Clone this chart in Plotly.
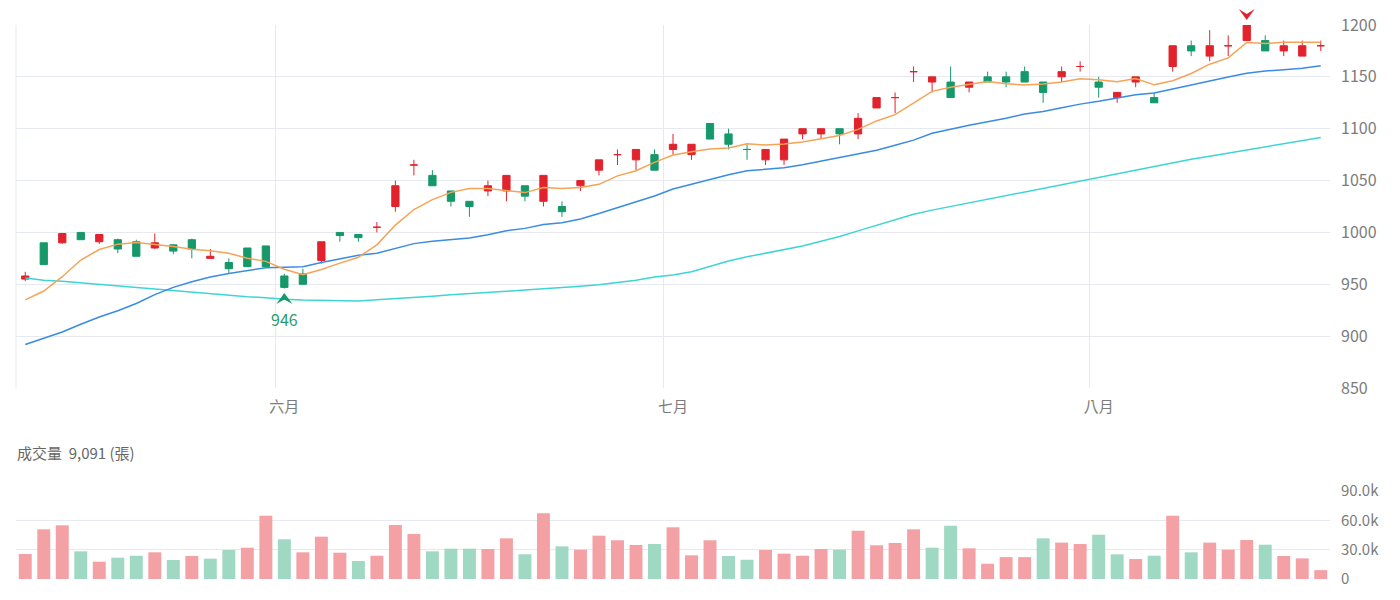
import plotly.graph_objects as go

# ---------------- data ----------------
open_ = [955, 990, 990, 1000, 991, 993, 991, 985, 988, 993,
         975, 971, 985, 987, 958, 960, 973, 1000, 998, 1005,
         1025, 1065, 1055, 1040, 1030, 1040, 1040, 1045, 1030, 1025,
         1045, 1060, 1075, 1070, 1075, 1080, 1075, 1105, 1095, 1080,
         1070, 1070, 1095, 1095, 1100, 1095, 1120, 1130, 1155, 1145,
         1145, 1140, 1150, 1150, 1155, 1145, 1150, 1160, 1145, 1130,
         1145, 1130, 1160, 1180, 1170, 1180, 1185, 1185, 1175, 1170, 1180]
high = [962, 990, 999, 1000, 998, 994, 993, 999, 989, 994,
        984, 975, 985, 987, 960, 965, 991, 1000, 998, 1010,
        1050, 1070, 1060, 1040, 1030, 1050, 1055, 1045, 1055, 1030,
        1050, 1070, 1080, 1080, 1080, 1095, 1085, 1105, 1100, 1085,
        1080, 1090, 1100, 1100, 1100, 1115, 1130, 1135, 1160, 1150,
        1160, 1145, 1155, 1155, 1160, 1145, 1160, 1165, 1150, 1135,
        1150, 1135, 1180, 1185, 1195, 1190, 1200, 1190, 1185, 1185, 1185]
low = [953, 969, 989, 993, 989, 980, 977, 984, 979, 975,
       975, 961, 967, 967, 946, 950, 970, 991, 991, 1000,
       1020, 1055, 1045, 1025, 1015, 1035, 1030, 1030, 1025, 1015,
       1040, 1055, 1065, 1060, 1060, 1075, 1070, 1090, 1080, 1070,
       1065, 1065, 1090, 1090, 1085, 1090, 1120, 1115, 1145, 1135,
       1130, 1135, 1145, 1140, 1145, 1125, 1145, 1155, 1130, 1125,
       1140, 1125, 1155, 1170, 1165, 1170, 1185, 1175, 1170, 1170, 1175]
close = [958, 969, 999, 993, 998, 984, 977, 990, 982, 984,
         977, 965, 967, 967, 947, 950, 991, 997, 995, 1005,
         1045, 1065, 1045, 1030, 1025, 1045, 1055, 1035, 1055, 1020,
         1050, 1070, 1075, 1080, 1060, 1085, 1085, 1090, 1085, 1080,
         1080, 1090, 1100, 1100, 1095, 1110, 1130, 1130, 1155, 1150,
         1130, 1145, 1145, 1145, 1145, 1135, 1155, 1160, 1140, 1135,
         1150, 1125, 1180, 1175, 1180, 1180, 1200, 1175, 1180, 1180, 1180]
volume = [25600, 50800, 54900, 28300, 17700, 21800, 23800, 27300, 19400, 23500,
          20800, 29700, 32000, 64700, 40600, 27300, 43300, 26900, 18400, 23800,
          55200, 46000, 28300, 31000, 31000, 30700, 41600, 25300, 67200, 33400,
          30000, 44300, 39600, 34800, 35800, 52900, 24200, 39600, 23500, 19700,
          29700, 25900, 23800, 30700, 30000, 49400, 34500, 36800, 50800, 32000,
          54500, 31400, 15600, 22400, 22400, 41600, 37200, 35800, 45300, 25200,
          20400, 23800, 64700, 27300, 37200, 30000, 39900, 35100, 23500, 21100, 9091]
ma5 = [935, 943.5, 957.3, 973.4, 983.5, 988.7, 990.4, 988.7, 986.5, 983.8,
       982.3, 979.9, 975.2, 972.1, 964.5, 959.2, 964.3, 970.4, 976.1, 988,
       1007.1, 1022.1, 1031.6, 1038.6, 1042.4, 1042.4, 1040.3, 1038.4, 1043.4, 1042.4,
       1043.4, 1046.4, 1054.5, 1059.5, 1067.5, 1074.6, 1077.7, 1080.5, 1081.4, 1085.4,
       1084.3, 1085.2, 1087.3, 1090.4, 1093.4, 1099.4, 1107.5, 1113.6, 1124.8, 1136,
       1139.9, 1142.8, 1145.6, 1143.3, 1142.1, 1143.1, 1145.1, 1148.2, 1147.2, 1145.3,
       1148.3, 1142.3, 1146.3, 1153.2, 1162.2, 1168.3, 1183.2, 1182.1, 1183.3, 1183.3, 1183.3]
ma20 = [892, 898, 904, 911.5, 918.5, 924.5, 931.5, 940, 947, 952.5,
        957, 960.5, 963.5, 966, 966.5, 967, 971, 974.5, 978, 980,
        984.3, 989.2, 991.5, 993.3, 994.7, 997.8, 1001.7, 1003.9, 1007.6, 1009.3,
        1013, 1018.3, 1023.7, 1029.4, 1035.1, 1041.9, 1046.6, 1051.3, 1055.7, 1059.4,
        1061.2, 1062.4, 1065.2, 1068.7, 1072.2, 1075.4, 1079.2, 1084, 1089, 1095.6,
        1099.6, 1103.3, 1106.8, 1110, 1114.2, 1116.7, 1120.2, 1123.7, 1126.4, 1129.2,
        1132.7, 1134.4, 1138.4, 1142.1, 1146.4, 1149.9, 1153.4, 1155.6, 1156.8, 1158.2, 1160.8]
ma60 = [956, 954, 953, 951.5, 950, 948.5, 947, 945.5, 944, 942,
        941, 939.5, 938, 937, 935.5, 934.8, 934.5, 934.2, 934, 935,
        936, 937.4, 938.5, 940, 941.3, 942.3, 943.3, 944.4, 945.5, 946.5,
        948, 949.5, 951.5, 954, 957, 959, 962, 967, 972.5, 976.5,
        980, 983.5, 987, 991.5, 996, 1001.5, 1007, 1012.5, 1017.5, 1021.5,
        1025, 1029, 1032, 1035.5, 1039, 1043, 1046.5, 1050, 1053.5, 1057,
        1060.5, 1063.5, 1067, 1070.5, 1073.5, 1076.5, 1079.5, 1082.5, 1085.5, 1088.5, 1091.5]

month_labels = ["六月", "七月", "八月"]
month_first_idx = [14, 35, 58]
price_ticks = [850, 900, 950, 1000, 1050, 1100, 1150, 1200]
vol_ticks = [0, 30000, 60000, 90000]
vol_tick_text = ["0", "30.0k", "60.0k", "90.0k"]
volume_title = "成交量"
volume_unit = "(張)"

# ---------------- style ----------------
RED = "#E2222C"
GREEN = "#16996A"
RED_LIGHT = "#F4A1A6"
GREEN_LIGHT = "#9FD8C3"
C_MA5 = "#F5A356"
C_MA20 = "#3A8BE3"
C_MA60 = "#3DD5D3"
GRID = "#E6E9F0"
TXT = "#7C7C7C"
FONT = "Noto Sans CJK TC, Noto Sans, sans-serif"

W, H = 1400, 600
P_TOP, P_BOT = 25, 388      # price panel pixel rows
V_TOP, V_BOT = 491, 579     # volume panel pixel rows
price_dom = [1 - P_BOT / H, 1 - P_TOP / H]
vol_dom = [1 - V_BOT / H, 1 - V_TOP / H]
p_lo, p_hi = price_ticks[0], price_ticks[-1]

n = len(close)
x = list(range(n))

# candle colour (echarts style: doji decided by previous close)
up = []
for i in range(n):
    if close[i] > open_[i]:
        up.append(True)
    elif close[i] < open_[i]:
        up.append(False)
    else:
        up.append(i == 0 or close[i] >= close[i - 1])
vol_up = [(close[i] >= open_[i]) if i == 0 else (close[i] >= close[i - 1]) for i in range(n)]

fig = go.Figure()
for flag, col in [(True, RED), (False, GREEN)]:
    idx = [i for i in range(n) if up[i] == flag]
    fig.add_trace(go.Candlestick(
        x=[x[i] for i in idx],
        open=[open_[i] for i in idx], high=[high[i] for i in idx],
        low=[low[i] for i in idx], close=[close[i] for i in idx],
        increasing=dict(line=dict(color=col, width=1), fillcolor=col),
        decreasing=dict(line=dict(color=col, width=1), fillcolor=col),
        whiskerwidth=0, showlegend=False, xaxis="x", yaxis="y",
    ))

for vals, col in [(ma60, C_MA60), (ma20, C_MA20), (ma5, C_MA5)]:
    fig.add_trace(go.Scatter(x=x, y=vals, mode="lines", line=dict(color=col, width=1.5),
                             showlegend=False, hoverinfo="skip", xaxis="x", yaxis="y"))

fig.add_trace(go.Bar(x=x, y=volume, marker=dict(color=[RED_LIGHT if u else GREEN_LIGHT for u in vol_up], line_width=0),
                     showlegend=False, xaxis="x2", yaxis="y2"))

# max / min markers
imax = max(range(n), key=lambda i: high[i])
imin = min(range(n), key=lambda i: low[i])


def price_to_paper(v):
    return price_dom[0] + (v - p_lo) / (p_hi - p_lo) * (price_dom[1] - price_dom[0])


shapes = [
    # left boundary line of the price panel
    dict(type="line", xref="paper", yref="paper", x0=0, x1=0, y0=price_dom[0], y1=price_dom[1],
         line=dict(color=GRID, width=1), layer="below"),
    dict(type="path", xref="x", yref="paper", xsizemode="pixel", ysizemode="pixel",
         xanchor=imax, yanchor=price_to_paper(high[imax]),
         path="M 0 5 L -8 16 L 0 11 L 8 16 Z", fillcolor=RED, line=dict(width=0), layer="above"),
    dict(type="path", xref="x", yref="paper", xsizemode="pixel", ysizemode="pixel",
         xanchor=imin, yanchor=price_to_paper(low[imin]),
         path="M 0 -4.5 L -8 -15.5 L 0 -11 L 8 -15.5 Z", fillcolor=GREEN, line=dict(width=0), layer="above"),
]

annotations = [
    dict(x=imin, y=low[imin], xref="x", yref="y", text=f"{low[imin]:g}", showarrow=False,
         yshift=-31, font=dict(color="#2A9C70", size=16, family=FONT)),
    dict(x=0, y=1 - 452 / H, xref="paper", yref="paper", xanchor="left", yanchor="middle",
         xshift=-1, showarrow=False,
         text=f"{volume_title}\u00a0\u00a0{volume[-1]:,} {volume_unit}",
         font=dict(color="#666666", size=15, family=FONT)),
]

fig.update_layout(
    width=W, height=H,
    margin=dict(l=16, r=70, t=0, b=0),
    paper_bgcolor="white", plot_bgcolor="white",
    font=dict(family=FONT, color=TXT, size=15),
    boxgap=0.44, bargap=0.3,
    shapes=shapes, annotations=annotations,
    hovermode=False,
    xaxis=dict(domain=[0, 1], anchor="y", range=[-0.5, n - 0.5], automargin=False,
               tickmode="array", tickvals=month_first_idx, ticktext=month_labels,
               showgrid=False, zeroline=False, showline=False, ticks="",
               ticklabelstandoff=8,
               rangeslider=dict(visible=False), fixedrange=True,
               tickfont=dict(size=15, color=TXT),
               minor=dict(tickmode="array", tickvals=[-0.5] + [m - 0.5 for m in month_first_idx],
                          showgrid=True, gridcolor=GRID, gridwidth=1, ticks="")),
    xaxis2=dict(domain=[0, 1], anchor="y2", matches="x", showticklabels=False, automargin=False,
                showgrid=False, zeroline=False, showline=False, ticks="", fixedrange=True),
    yaxis=dict(domain=price_dom, anchor="x", side="right", range=[p_lo, p_hi], automargin=False,
               tickmode="array", tickvals=price_ticks, ticktext=[str(t) for t in price_ticks],
               showgrid=True, gridcolor=GRID, gridwidth=1, zeroline=False, showline=False,
               ticks="", ticklabelstandoff=10, tickfont=dict(size=16, color=TXT), fixedrange=True),
    yaxis2=dict(domain=vol_dom, anchor="x2", side="right", range=[vol_ticks[0], vol_ticks[-1]],
                automargin=False,
                tickmode="array", tickvals=vol_ticks, ticktext=vol_tick_text,
                showgrid=True, gridcolor=GRID, gridwidth=1, zeroline=False, showline=False,
                ticks="", ticklabelstandoff=10, tickfont=dict(size=15, color=TXT), fixedrange=True),
)

fig.write_html("out.html")
